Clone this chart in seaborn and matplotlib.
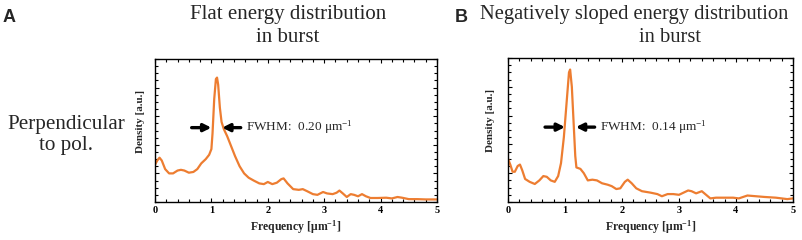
import numpy as np
import pandas as pd
import matplotlib
matplotlib.use('Agg')
import matplotlib.pyplot as plt
import seaborn as sns
from matplotlib.ticker import MultipleLocator, NullFormatter

# spectra (density in a.u., 0..1 of axis height)
freq_a = [0.00, 0.04, 0.08, 0.12, 0.18, 0.25, 0.32, 0.40, 0.46, 0.52, 0.60, 0.68, 0.75, 0.82, 0.90,
          0.96, 1.00, 1.02, 1.05, 1.08, 1.10, 1.12, 1.15, 1.18, 1.22, 1.28, 1.35, 1.42, 1.50, 1.58,
          1.66, 1.75, 1.85, 1.93, 2.00, 2.08, 2.16, 2.24, 2.28, 2.35, 2.45, 2.55, 2.62, 2.70, 2.80,
          2.88, 2.98, 3.05, 3.15, 3.22, 3.27, 3.33, 3.40, 3.47, 3.53, 3.60, 3.67, 3.74, 3.82, 3.95,
          4.10, 4.20, 4.30, 4.38, 4.50, 4.65, 4.80, 5.00]
dens_a = [0.26, 0.29, 0.31, 0.29, 0.23, 0.20, 0.20, 0.22, 0.225, 0.22, 0.205, 0.21, 0.23, 0.27, 0.30,
          0.33, 0.37, 0.48, 0.72, 0.86, 0.87, 0.82, 0.66, 0.56, 0.51, 0.46, 0.39, 0.32, 0.25, 0.20,
          0.17, 0.15, 0.13, 0.125, 0.14, 0.125, 0.135, 0.16, 0.165, 0.13, 0.09, 0.085, 0.09, 0.075, 0.055,
          0.05, 0.07, 0.06, 0.055, 0.065, 0.08, 0.06, 0.035, 0.055, 0.05, 0.04, 0.055, 0.04, 0.028, 0.028,
          0.03, 0.025, 0.035, 0.03, 0.02, 0.02, 0.018, 0.018]

freq_b = [0.00, 0.04, 0.08, 0.12, 0.17, 0.21, 0.25, 0.30, 0.38, 0.47, 0.55, 0.62, 0.68, 0.75, 0.82,
          0.88, 0.93, 0.98, 1.03, 1.07, 1.09, 1.12, 1.15, 1.18, 1.20, 1.27, 1.33, 1.40, 1.48, 1.56,
          1.65, 1.75, 1.82, 1.90, 1.97, 2.05, 2.10, 2.17, 2.25, 2.35, 2.50, 2.62, 2.70, 2.80, 2.90,
          3.00, 3.08, 3.16, 3.22, 3.30, 3.40, 3.46, 3.55, 3.65, 3.80, 3.95, 4.05, 4.20, 4.35, 4.50,
          4.70, 4.90, 5.00]
dens_b = [0.30, 0.26, 0.21, 0.21, 0.25, 0.26, 0.22, 0.16, 0.14, 0.125, 0.15, 0.18, 0.175, 0.15, 0.14,
          0.18, 0.27, 0.45, 0.70, 0.90, 0.92, 0.80, 0.56, 0.32, 0.24, 0.23, 0.20, 0.15, 0.155, 0.15,
          0.13, 0.12, 0.11, 0.09, 0.095, 0.14, 0.155, 0.13, 0.095, 0.075, 0.065, 0.055, 0.04, 0.055, 0.055,
          0.05, 0.065, 0.08, 0.075, 0.06, 0.075, 0.055, 0.025, 0.03, 0.03, 0.03, 0.025, 0.045, 0.04, 0.035,
          0.03, 0.02, 0.025]

fwhm_a = "0.20"
fwhm_b = "0.14"

sns.set_style("ticks")
plt.rcParams['font.family'] = ['Liberation Serif', 'DejaVu Serif']
plt.rcParams['mathtext.fontset'] = 'custom'
plt.rcParams['mathtext.rm'] = 'Liberation Serif'
plt.rcParams['mathtext.bf'] = 'Liberation Serif:bold'
plt.rcParams['mathtext.it'] = 'Liberation Serif:italic'

orange = '#ED7D31'

fig = plt.figure(figsize=(8.03, 2.40), dpi=100)
ax_a = fig.add_axes([155/803, 38/240, 282/803, 143/240])
ax_b = fig.add_axes([508/803, 38/240, 285/803, 144/240])

df_a = pd.DataFrame({'freq': freq_a, 'density': dens_a})
df_b = pd.DataFrame({'freq': freq_b, 'density': dens_b})

for ax, df, fwhm, lx in [(ax_a, df_a, fwhm_a, -0.035), (ax_b, df_b, fwhm_b, -0.046)]:
    sns.lineplot(data=df, x='freq', y='density', ax=ax, color=orange, lw=1.6)
    ax.set_xlim(0, 5)
    ax.set_ylim(0, 1)
    ax.xaxis.set_major_locator(MultipleLocator(1))
    ax.xaxis.set_minor_locator(MultipleLocator(0.2))
    ax.yaxis.set_major_locator(MultipleLocator(0.2))
    ax.yaxis.set_minor_locator(MultipleLocator(0.05))
    ax.yaxis.set_major_formatter(NullFormatter())
    ax.tick_params(which='both', direction='in', top=True, right=True, colors='k', pad=3)
    ax.tick_params(which='major', length=3, width=0.8, labelsize=7.5)
    ax.tick_params(which='minor', length=2, width=0.8)
    for lab in ax.get_xticklabels():
        lab.set_fontweight('bold')
    for sp in ax.spines.values():
        sp.set_linewidth(1.0)
        sp.set_color('k')
    ax.set_xlabel(r'Frequency [μm$^{\mathbf{-1}}$]', fontsize=8.5, fontweight='bold', labelpad=2)
    ax.set_ylabel('Density [a.u.]', fontsize=8, fontweight='bold')
    ax.yaxis.set_label_coords(lx, 0.565)
    # FWHM arrows
    ay = 0.52
    ax.annotate('', xy=(1.0, ay), xytext=(0.65, ay),
                arrowprops=dict(arrowstyle='-|>', color='k', lw=2.4, mutation_scale=11, shrinkA=0, shrinkB=0))
    ax.annotate('', xy=(1.19, ay), xytext=(1.52, ay),
                arrowprops=dict(arrowstyle='-|>', color='k', lw=2.4, mutation_scale=11, shrinkA=0, shrinkB=0))
    ax.text(1.62, ay, 'FWHM:  ' + fwhm + r' μm$^{-1}$', fontsize=9.5, va='center', ha='left')

# titles and panel labels
fig.text(288/803, 1 - 14/240, 'Flat energy distribution', fontsize=15, ha='center', va='center')
fig.text(288/803, 1 - 37/240, 'in burst', fontsize=15, ha='center', va='center')
fig.text(634/803, 1 - 14/240, 'Negatively sloped energy distribution', fontsize=14.8, ha='center', va='center')
fig.text(670/803, 1 - 37/240, 'in burst', fontsize=14.8, ha='center', va='center')
fig.text(3/803, 1 - 17/240, 'A', fontsize=13, fontweight='bold', family='Liberation Sans', ha='left', va='center')
fig.text(455/803, 1 - 18/240, 'B', fontsize=13, fontweight='bold', family='Liberation Sans', ha='left', va='center')
fig.text(66/803, 1 - 135/240, 'Perpendicular\nto pol.', fontsize=15.2, ha='center', va='center',
         linespacing=1.15)

fig.savefig('out.png', dpi=100)
